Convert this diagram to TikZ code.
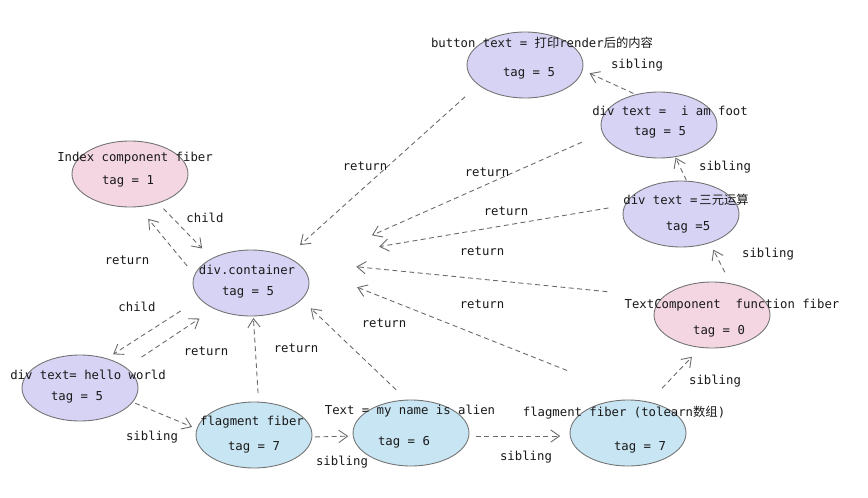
\documentclass[tikz,border=0pt]{standalone}
\usepackage{fontspec}
\setmonofont{DejaVu Sans Mono}
\newfontfamily\cjk{Noto Sans CJK SC}
\usetikzlibrary{shapes.geometric, arrows.meta}
\definecolor{fiberpurple}{RGB}{215,211,245}
\definecolor{fiberpink}{RGB}{243,214,226}
\definecolor{fiberblue}{RGB}{200,229,243}
\definecolor{edgegray}{RGB}{105,105,105}

\begin{document}
\begin{tikzpicture}[x=0.02cm, y=-0.02cm,
            fiber/.style={ellipse, draw=black!55, line width=0.5pt, minimum width=2.32cm, minimum height=1.32cm, inner sep=0pt, outer sep=0pt},
            purplefiber/.style={fiber, fill=fiberpurple},
            pinkfiber/.style={fiber, fill=fiberpink},
            bluefiber/.style={fiber, fill=fiberblue},
            lbl/.style={font=\ttfamily\fontsize{7}{8}\selectfont, text=black!90, inner sep=0pt},
            link/.style={edgegray, line width=0.5pt, dash pattern=on 2.8pt off 2pt, -{Straight Barb[length=5pt,width=7pt]}}
        ]
            % Canvas
            \fill [white] (0,0) rectangle (868,497);
            \useasboundingbox (0,0) rectangle (868,497);

            % Fibers
            \node [pinkfiber]   (index)   at (130,174) {};
            \node [purplefiber] (cont)    at (251,283) {};
            \node [purplefiber] (hello)   at (80,388)  {};
            \node [bluefiber]   (frag)    at (254,435) {};
            \node [bluefiber]   (alien)   at (411,433) {};
            \node [bluefiber]   (learn)   at (628,433) {};
            \node [pinkfiber]   (textc)   at (712,315) {};
            \node [purplefiber] (sanyuan) at (681,214) {};
            \node [purplefiber] (foot)    at (659,125) {};
            \node [purplefiber] (button)  at (525,65)  {};

            % Fiber texts
            \node [lbl] (index-name)   at (135,158) {Index component fiber};
            \node [lbl] (index-tag)    at (128,181) {tag = 1};
            \node [lbl] (cont-name)    at (247,270) {div.container};
            \node [lbl] (cont-tag)     at (248,292) {tag = 5};
            \node [lbl] (hello-name)   at (88,375)  {div text= hello world};
            \node [lbl] (hello-tag)    at (77,397)  {tag = 5};
            \node [lbl] (frag-name)    at (252,422) {flagment fiber};
            \node [lbl] (frag-tag)     at (254,447) {tag = 7};
            \node [lbl] (alien-name)   at (410,411) {Text = my name is alien};
            \node [lbl] (alien-tag)    at (404,442) {tag = 6};
            \node [lbl] (learn-name)   at (624,413) {flagment fiber (tolearn{\cjk 数组})};
            \node [lbl] (learn-tag)    at (640,447) {tag = 7};
            \node [lbl] (textc-name)   at (732,305) {TextComponent\ \ function fiber};
            \node [lbl] (textc-tag)    at (719,331) {tag = 0};
            \node [lbl] (sanyuan-name) at (686,200) {div text =\,{\cjk 三元运算}};
            \node [lbl] (sanyuan-tag)  at (688,227) {tag =5};
            \node [lbl] (foot-name)    at (670,111) {div text =\ \ i am foot};
            \node [lbl] (foot-tag)     at (660,132) {tag = 5};
            \node [lbl] (button-name)  at (542,43)  {button text = {\cjk 打印}render{\cjk 后的内容}};
            \node [lbl] (button-tag)   at (529,73)  {tag = 5};

            % Child edges
            \draw [link, shorten <=4.5pt, shorten >=8pt]  (index.-46) -- (cont.148);
            \draw [link, shorten <=13pt, shorten >=4.5pt] (cont.197) -- (hello.48);

            % Return edges
            \draw [link, shorten <=6.8pt, shorten >=9pt]     (cont.172) -- (index.-76);
            \draw [link, shorten <=10.8pt, shorten >=10.2pt] (hello.24) -- (cont.215);
            \draw [link, shorten <=5.1pt, shorten >=1.1pt]   (frag.82) -- (cont.-86);
            \draw [link, shorten <=8.5pt, shorten >=7.4pt]   (alien.97) -- (cont.-18);
            \draw [link, shorten <=48pt, shorten >=36pt]     (learn.61) -- (cont.22);
            \draw [link, shorten <=32pt, shorten >=36pt]     (textc.160) -- (cont.28);
            \draw [link, shorten <=9.6pt, shorten >=49pt]    (sanyuan.171) -- (cont.27);
            \draw [link, shorten <=13pt, shorten >=44pt]     (foot.188) -- (cont.18);
            \draw [link, shorten <=10.2pt, shorten >=10.2pt] (button.203) -- (cont.36);

            % Sibling edges
            \draw [link, shorten <=1.7pt, shorten >=3pt]   (hello.-15) -- (frag.174);
            \draw [link, shorten <=1.7pt, shorten >=2.8pt] (frag.-2) -- (alien.183);
            \draw [link, shorten <=4pt, shorten >=5.7pt]   (alien.-3) -- (learn.183);
            \draw [link, shorten <=11pt, shorten >=7.4pt]  (learn.56) -- (textc.251);
            \draw [link, shorten <=7.4pt, shorten >=4.5pt] (textc.59) -- (sanyuan.-45);
            \draw [link, shorten <=0.6pt, shorten >=0.6pt] (sanyuan.80) -- (foot.-63);
            \draw [link, shorten <=1.7pt, shorten >=4.5pt] (foot.127) -- (button.-5);

            % Edge labels
            \node [lbl] (child-a)  at (205,218) {child};
            \node [lbl] (child-b)  at (137,307) {child};
            \node [lbl] (ret-a)    at (127,260) {return};
            \node [lbl] (ret-b)    at (206,351) {return};
            \node [lbl] (ret-c)    at (296,348) {return};
            \node [lbl] (ret-d)    at (384,323) {return};
            \node [lbl] (ret-e)    at (482,304) {return};
            \node [lbl] (ret-f)    at (482,251) {return};
            \node [lbl] (ret-g)    at (506,211) {return};
            \node [lbl] (ret-h)    at (487,172) {return};
            \node [lbl] (ret-i)    at (365,166) {return};
            \node [lbl] (sib-a)    at (152,437) {sibling};
            \node [lbl] (sib-b)    at (342,462) {sibling};
            \node [lbl] (sib-c)    at (526,457) {sibling};
            \node [lbl] (sib-d)    at (715,381) {sibling};
            \node [lbl] (sib-e)    at (768,254) {sibling};
            \node [lbl] (sib-f)    at (725,167) {sibling};
            \node [lbl] (sib-g)    at (637,65)  {sibling};
        \end{tikzpicture}
\end{document}
